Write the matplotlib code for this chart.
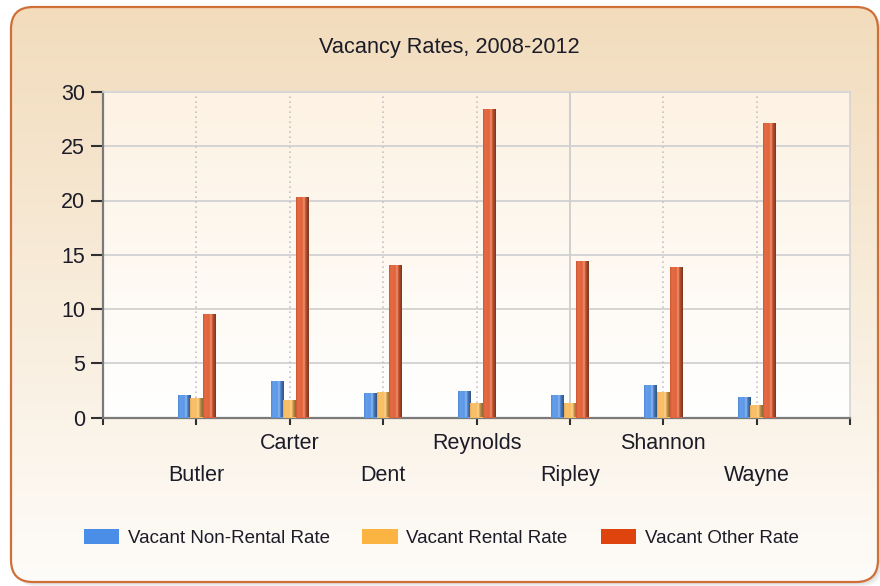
import numpy as np
import matplotlib
matplotlib.use("Agg")
import matplotlib.pyplot as plt
from matplotlib.patches import FancyBboxPatch, Patch
from matplotlib.colors import to_rgb

plt.rcParams['font.family'] = ['Liberation Sans', 'DejaVu Sans']

# ---- data ----
counties = ["Butler", "Carter", "Dent", "Reynolds", "Ripley", "Shannon", "Wayne"]
non_rental = [2.03, 3.34, 2.24, 2.42, 2.05, 2.95, 1.86]
rental = [1.83, 1.64, 2.38, 1.31, 1.31, 2.36, 1.13]
other = [9.56, 20.34, 14.07, 28.46, 14.41, 13.86, 27.17]
series_names = ["Vacant Non-Rental Rate", "Vacant Rental Rate", "Vacant Other Rate"]
yticks = [0, 5, 10, 15, 20, 25, 30]
title = "Vacancy Rates, 2008-2012"

bar_colors = ["#5c98e8", "#f9bd62", "#e2633a"]
legend_colors = ["#4a8ee8", "#fbb441", "#e0440e"]
text_color = "#1c1c28"

W, H = 880, 586
fig = plt.figure(figsize=(W / 100, H / 100), dpi=100)
fig.patch.set_facecolor("white")

# ---- background panel ----
bg = fig.add_axes([0, 0, 1, 1], zorder=-10)
bg.set_xlim(0, W)
bg.set_ylim(H, 0)
bg.axis("off")

bx0, by0, bx1, by1 = 11, 7, 878, 582
for off, a in [(5, 0.04), (4, 0.05), (3, 0.06), (2, 0.08)]:
    sh = FancyBboxPatch((bx0 + off, by0 + off), bx1 - bx0, by1 - by0,
                        boxstyle="round,pad=0,rounding_size=22",
                        fc="#707070", ec="none", alpha=a)
    bg.add_patch(sh)

box = FancyBboxPatch((bx0, by0), bx1 - bx0, by1 - by0,
                     boxstyle="round,pad=0,rounding_size=22",
                     fc="white", ec="none")
bg.add_patch(box)

def vgrad(top, bottom, n=256):
    t = np.linspace(0, 1, n)[:, None]
    a = np.array(to_rgb(top))
    b = np.array(to_rgb(bottom))
    return (a * (1 - t) + b * t)[:, None, :]

im = bg.imshow(vgrad("#f2dcbc", "#fefcf9"), extent=(bx0, bx1, by1, by0),
               origin="upper", aspect="auto", interpolation="bilinear", zorder=1)
im.set_clip_path(box)

border = FancyBboxPatch((bx0, by0), bx1 - bx0, by1 - by0,
                        boxstyle="round,pad=0,rounding_size=22",
                        fc="none", ec="#cf7038", lw=1.6, zorder=5)
bg.add_patch(border)

# plot area background
px0, px1, py_top, py_bot = 103, 850, 92, 417.5
bg.imshow(vgrad("#fdf2e3", "#ffffff"), extent=(px0, px1, py_bot, py_top),
          origin="upper", aspect="auto", interpolation="bilinear", zorder=2)
bg.set_xlim(0, W)
bg.set_ylim(H, 0)

# ---- main axes ----
ax = fig.add_axes([px0 / W, 1 - py_bot / H, (px1 - px0) / W, (py_bot - py_top) / H])
ax.set_facecolor("none")

def cylinder(color, n=64):
    base = np.array(to_rgb(color))
    t = np.linspace(0, 1, n)
    f = np.interp(t, [0, 0.15, 0.5, 0.62, 0.78, 1.0],
                  [0.9, 1.04, 1.0, 1.22, 0.78, 0.55])[:, None]
    out = np.where(f > 1, base + (1 - base) * (f - 1) * 1.6, base * f)
    return out.clip(0, 1)[None, :, :]

x = np.arange(1, len(counties) + 1)
w = 0.134
for s, (vals, col) in enumerate(zip([non_rental, rental, other], bar_colors)):
    bars = ax.bar(x + (s - 1) * w, vals, w, color=col, zorder=3, linewidth=0)
    g = cylinder(col)
    for p in bars:
        img = ax.imshow(g, extent=(p.get_x(), p.get_x() + p.get_width(), 0, p.get_height()),
                        aspect="auto", interpolation="bilinear", zorder=3.5)
        img.set_clip_path(p)

ax.set_xlim(0, len(counties) + 1)
ax.set_ylim(0, 30)

# grid
ax.set_axisbelow(True)
ax.yaxis.grid(True, color="#d4d4d4", lw=1.4)
for i, xi in enumerate(x):
    if counties[i] == "Ripley":
        ax.axvline(xi, color="#cfcfcf", lw=1.4, zorder=1)
    else:
        ax.axvline(xi, color="#c4c4c4", lw=1.2, ls=(0, (1, 2)), zorder=1)

# spines
for side in ["top", "right"]:
    ax.spines[side].set_color("#d4d4d4")
    ax.spines[side].set_linewidth(1.2)
for side in ["left", "bottom"]:
    ax.spines[side].set_color("#7a7a7a")
    ax.spines[side].set_linewidth(1.6)

# ticks
ax.set_yticks(yticks)
ax.set_yticklabels([str(v) for v in yticks], fontsize=15.5, color=text_color)
ax.tick_params(axis="y", length=9, width=1.5, color="#303030", pad=4)
ax.set_xticks(x)
ax.set_xticklabels(counties, fontsize=15.5, color=text_color)
ax.set_xticks([0, len(counties) + 1], minor=True)
ax.tick_params(axis="x", which="both", length=5, width=1.5, color="#303030")
for i, t in enumerate(ax.xaxis.get_major_ticks()):
    t.set_pad(6 if i % 2 == 1 else 29)

# title
fig.text(449.5 / W, 1 - 47 / H, title, ha="center", va="center",
         fontsize=15.7, color=text_color)

# legend
handles = [Patch(facecolor=c, edgecolor="none") for c in legend_colors]
fig.legend(handles, series_names, loc="center", bbox_to_anchor=(441 / W, 1 - 538 / H),
           ncol=3, frameon=False, fontsize=13.5, handlelength=1.9, handleheight=0.8,
           handletextpad=0.45, columnspacing=1.75, labelcolor=text_color)

fig.savefig("out.png", dpi=100)
